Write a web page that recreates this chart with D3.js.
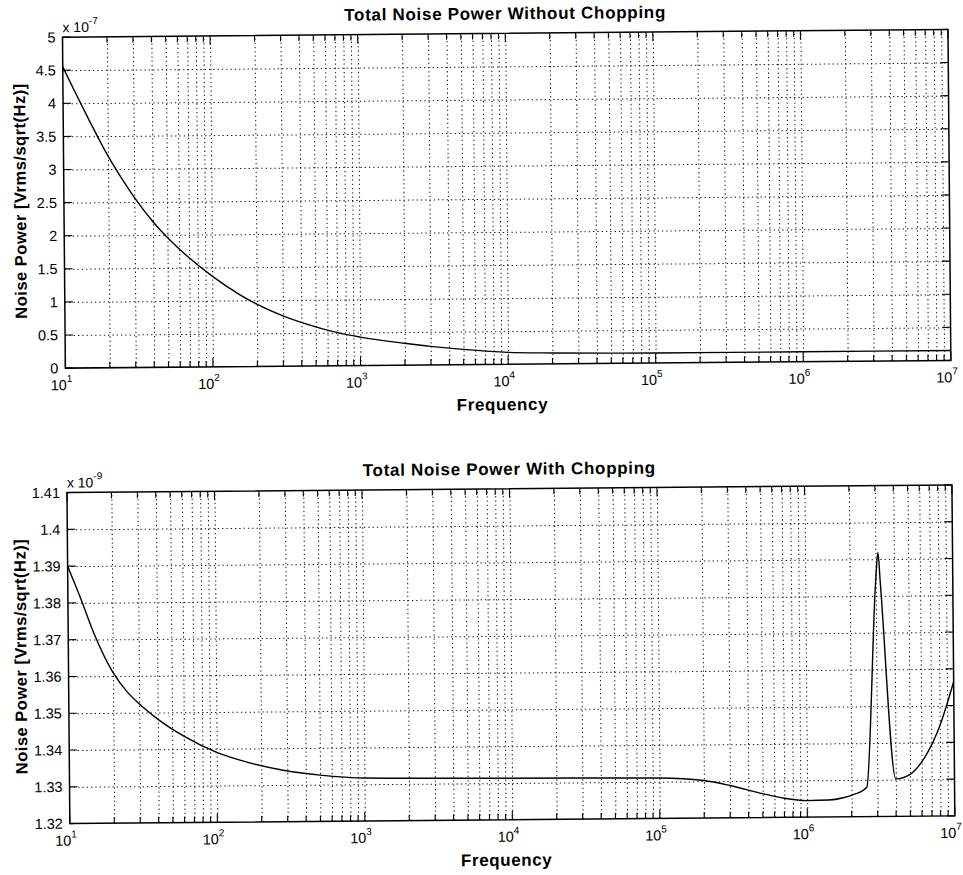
<!DOCTYPE html>
<html>
<head>
<meta charset="utf-8">
<script src="https://cdn.jsdelivr.net/npm/d3@7"></script>
<style>
  body { margin: 0; background: #fff; }
  text { font-family: "Liberation Sans", Arial, Helvetica, sans-serif; fill: #000; }
</style>
</head>
<body>
<script>
// values
var freqTop = [10, 12, 15, 20, 25, 30, 40, 50, 70, 100, 150, 200, 300, 500, 700, 1e3, 2e3, 3e3, 5e3, 1e4, 2e4, 5e4, 1e5, 1e6, 1e7];
var noiseTop = [4.55, 4.18, 3.74, 3.2, 2.84, 2.57, 2.2, 1.96, 1.65, 1.37, 1.1, 0.94, 0.76, 0.59, 0.5, 0.43, 0.33, 0.28, 0.23, 0.18, 0.165, 0.155, 0.15, 0.15, 0.15]; // x 1e-7

var freqBottom = [10, 12, 15, 20, 25, 30, 40, 60, 100, 170, 300, 500, 1e3, 1e4, 1e5, 2e5, 3e5, 5e5, 7e5, 1e6, 1.4e6, 1.76e6, 2.06e6, 2.54e6, 3.0e6, 3.12e6, 3.22e6, 4.0e6, 5.0e6, 6.3e6, 8e6, 1e7];
var noiseBottom = [1.390, 1.382, 1.3715, 1.361, 1.3556, 1.3524, 1.3482, 1.3435, 1.339, 1.336, 1.3338, 1.3326, 1.3317, 1.3313, 1.331, 1.3302, 1.3288, 1.3265, 1.3252, 1.3245, 1.3246, 1.3252, 1.326, 1.328, 1.384, 1.3918, 1.384, 1.3302, 1.3314, 1.336, 1.3445, 1.3565]; // x 1e-9

var xTickExps = [1, 2, 3, 4, 5, 6, 7];
var yTicksTop = [0, 0.5, 1, 1.5, 2, 2.5, 3, 3.5, 4, 4.5, 5];
var yTicksBottom = [1.32, 1.33, 1.34, 1.35, 1.36, 1.37, 1.38, 1.39, 1.4, 1.41];

var titles = ['Total Noise Power Without Chopping', 'Total Noise Power With Chopping'];
var xLabel = 'Frequency';
var yLabel = 'Noise Power [Vrms/sqrt(Hz)]';
var scaleExps = ['-7', '-9'];

var width = 963, height = 875;

var svg = d3.select('body')
  .append('svg')
    .attr('width', width)
    .attr('height', height);

// the scan is tilted a little
var root = svg.append('g')
  .attr('transform', 'rotate(-0.5,481,437)');

function drawPanel(p) {
  var g = root.append('g');
  var w = p.right - p.left;
  var h = p.bottom - p.top;

  var x_scale = d3.scaleLog()
    .domain([10, 1e7])
    .range([p.left, p.right]);
  var y_scale = d3.scaleLinear()
    .domain([p.yTicks[0], p.yTicks[p.yTicks.length - 1]])
    .range([p.bottom, p.top]);

  // all decade + minor positions
  var xMajor = xTickExps.map(function(e) { return Math.pow(10, e); });
  var xMinor = [];
  xTickExps.forEach(function(e) {
    for (var k = 2; k < 10; k++) {
      if (e < 7) xMinor.push(k * Math.pow(10, e));
    }
  });
  var xAll = xMajor.concat(xMinor).filter(function(v) { return v > 10 && v < 1e7; });

  // dotted grid
  g.append('g')
    .attr('class', 'grid')
    .attr('transform', 'translate(0,' + p.bottom + ')')
    .call(d3.axisBottom(x_scale).tickValues(xAll).tickSize(-h).tickFormat(''));
  g.append('g')
    .attr('class', 'grid')
    .attr('transform', 'translate(' + p.left + ',0)')
    .call(d3.axisLeft(y_scale).tickValues(p.yTicks.slice(1, -1)).tickSize(-w).tickFormat(''));
  g.selectAll('.grid .domain').remove();
  g.selectAll('.grid line')
    .attr('stroke', '#111')
    .attr('stroke-width', 1)
    .attr('stroke-dasharray', '1.3,3');

  // inward ticks on all four sides
  var tickG = g.append('g').attr('stroke', '#000').attr('stroke-width', 1.1);
  xMajor.concat(xMinor).forEach(function(v) {
    var len = xMajor.indexOf(v) >= 0 ? 9 : 6;
    var xx = x_scale(v);
    tickG.append('line').attr('x1', xx).attr('x2', xx).attr('y1', p.bottom).attr('y2', p.bottom - len);
    tickG.append('line').attr('x1', xx).attr('x2', xx).attr('y1', p.top).attr('y2', p.top + len);
  });
  p.yTicks.forEach(function(v) {
    var yy = y_scale(v);
    tickG.append('line').attr('x1', p.left).attr('x2', p.left + 8).attr('y1', yy).attr('y2', yy);
    tickG.append('line').attr('x1', p.right).attr('x2', p.right - 8).attr('y1', yy).attr('y2', yy);
  });

  // y tick labels
  var yAxis = g.append('g')
    .attr('transform', 'translate(' + p.left + ',0)')
    .call(d3.axisLeft(y_scale)
      .tickValues(p.yTicks)
      .tickSize(0)
      .tickPadding(7)
      .tickFormat(function(d) { return String(Math.round(d * 100) / 100); }));
  yAxis.select('.domain').remove();
  yAxis.selectAll('text')
    .attr('font-size', 14.5)
    .attr('font-family', '"Liberation Sans", Arial, sans-serif')
    .attr('fill', '#000');

  // x tick labels 10^n
  xTickExps.forEach(function(e) {
    var t = g.append('text')
      .attr('x', x_scale(Math.pow(10, e)) - 4)
      .attr('y', p.bottom + 22)
      .attr('text-anchor', 'middle')
      .attr('font-size', 14.5)
      .text('10');
    t.append('tspan')
      .attr('dy', -8)
      .attr('font-size', 10)
      .text(e);
  });

  // multiplier above the axis
  var m = g.append('text')
    .attr('x', p.left)
    .attr('y', p.top - 5)
    .attr('font-size', 14)
    .text('x 10');
  m.append('tspan')
    .attr('dy', -8)
    .attr('font-size', 10)
    .text(p.exp);

  // titles and labels
  g.append('text')
    .attr('x', (p.left + p.right) / 2)
    .attr('y', p.top - 14)
    .attr('text-anchor', 'middle')
    .attr('font-size', 17)
    .attr('font-weight', 'bold')
    .attr('letter-spacing', 0.7)
    .text(p.title);
  g.append('text')
    .attr('x', (p.left + p.right) / 2 - 6)
    .attr('y', p.bottom + 46)
    .attr('text-anchor', 'middle')
    .attr('font-size', 17)
    .attr('font-weight', 'bold')
    .attr('letter-spacing', 0.6)
    .text(xLabel);
  g.append('text')
    .attr('transform', 'translate(' + (p.left - p.yLabelGap) + ',' + ((p.top + p.bottom) / 2 - 2) + ') rotate(-90)')
    .attr('text-anchor', 'middle')
    .attr('font-size', 16.5)
    .attr('font-weight', 'bold')
    .attr('letter-spacing', 0.5)
    .text(yLabel);

  // the curve
  var line = d3.line()
    .x(function(d) { return x_scale(d[0]); })
    .y(function(d) { return y_scale(d[1]); })
    .curve(d3.curveMonotoneX);
  g.append('path')
    .datum(p.freq.map(function(f, i) { return [f, p.noise[i]]; }))
    .attr('fill', 'none')
    .attr('stroke', '#000')
    .attr('stroke-width', 1.4)
    .attr('d', line);

  // frame
  g.append('rect')
    .attr('x', p.left)
    .attr('y', p.top)
    .attr('width', w)
    .attr('height', h)
    .attr('fill', 'none')
    .attr('stroke', '#000')
    .attr('stroke-width', 1.5);
}

drawPanel({
  left: 66, right: 951.5, top: 33.5, bottom: 364.5, yLabelGap: 38,
  yTicks: yTicksTop, freq: freqTop, noise: noiseTop,
  title: titles[0], exp: scaleExps[0]
});
drawPanel({
  left: 66.5, right: 951.5, top: 489, bottom: 820, yLabelGap: 42,
  yTicks: yTicksBottom, freq: freqBottom, noise: noiseBottom,
  title: titles[1], exp: scaleExps[1]
});
</script>
</body>
</html>
